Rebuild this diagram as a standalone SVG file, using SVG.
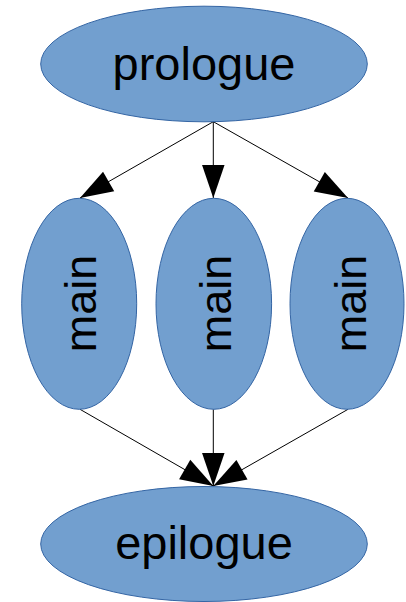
<svg xmlns="http://www.w3.org/2000/svg" width="406" height="602" viewBox="0 0 406 602">
<style>
.node{fill:#729fcf;stroke:#3465a4;stroke-width:1}
.lbl{font-family:"Liberation Sans",Arial,sans-serif;fill:#000;text-anchor:middle}
.edge{stroke:#000;stroke-width:1;fill:none;marker-end:url(#ah)}
</style>
<defs>
<marker id="ah" markerUnits="userSpaceOnUse" markerWidth="34" markerHeight="23" refX="33" refY="11.25" orient="auto" overflow="visible">
<path d="M0,0 L33,11.25 L0,22.5 Z" fill="#000"/>
</marker>
</defs>
<rect width="406" height="602" fill="#fff"/>
<g id="connectors">
<line class="edge" x1="213.3" y1="121.7" x2="80" y2="198"/>
<line class="edge" x1="213.3" y1="121.7" x2="213.3" y2="198"/>
<line class="edge" x1="213.3" y1="121.7" x2="348" y2="198"/>
<line class="edge" x1="80" y1="409.3" x2="213.3" y2="486"/>
<line class="edge" x1="213.3" y1="409.3" x2="213.3" y2="486"/>
<line class="edge" x1="348" y1="409.3" x2="213.3" y2="486"/>
</g>
<g id="prologue">
<ellipse class="node" cx="204" cy="64" rx="163.3" ry="57.8"/>
<text class="lbl" x="204" y="80" font-size="47">prologue</text>
</g>
<g id="main1">
<ellipse class="node" cx="79.2" cy="303.8" rx="57.5" ry="105.5"/>
<text class="lbl" font-size="45" transform="translate(96,303.4) rotate(-90)">main</text>
</g>
<g id="main2">
<ellipse class="node" cx="213.8" cy="303.8" rx="57.8" ry="105.5"/>
<text class="lbl" font-size="45" transform="translate(230.7,303.4) rotate(-90)">main</text>
</g>
<g id="main3">
<ellipse class="node" cx="347" cy="303.8" rx="57" ry="105.5"/>
<text class="lbl" font-size="45" transform="translate(365.7,303.4) rotate(-90)">main</text>
</g>
<g id="epilogue">
<ellipse class="node" cx="204" cy="544" rx="163.3" ry="57.5"/>
<text class="lbl" x="204" y="559.3" font-size="47">epilogue</text>
</g>
</svg>
